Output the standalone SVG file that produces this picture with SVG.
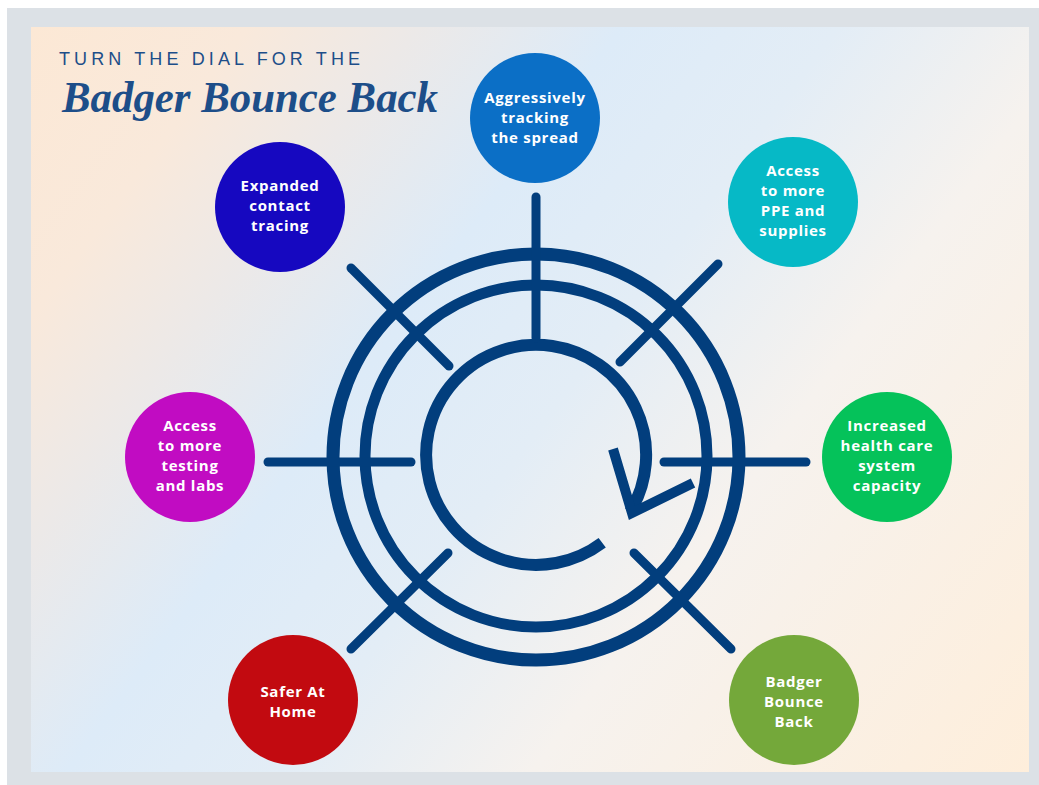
<svg xmlns="http://www.w3.org/2000/svg" width="1039" height="785" viewBox="0 0 1039 785">
  <defs>
    <linearGradient id="bg" gradientUnits="userSpaceOnUse" x1="31" y1="27" x2="1029" y2="772">
      <stop offset="0" stop-color="#FCE8D5"/>
      <stop offset="0.14" stop-color="#F9E9DB"/>
      <stop offset="0.25" stop-color="#ECE9E8"/>
      <stop offset="0.38" stop-color="#DDEBF8"/>
      <stop offset="0.52" stop-color="#E3EDF6"/>
      <stop offset="0.68" stop-color="#F6F2EE"/>
      <stop offset="1" stop-color="#FEEEDB"/>
    </linearGradient>
    <style>
      .ring { fill: none; stroke: #023E7D; }
      .spoke { fill: none; stroke: #023E7D; stroke-width: 9; stroke-linecap: round; }
      .lbl { font-family: "Open Sans", "Liberation Sans", sans-serif; font-weight: 700; font-size: 15px; fill: #FFFFFF; text-anchor: middle; letter-spacing: 0.7px; }
      .title1 { font-family: "Liberation Sans", "DejaVu Sans", sans-serif; font-size: 18px; fill: #1D4E89; }
      .title2 { font-family: "Liberation Serif", "DejaVu Serif", serif; font-style: italic; font-weight: 700; font-size: 45px; fill: #1D4E89; }
    </style>
  </defs>

  <rect x="7" y="8" width="1032" height="777" fill="#DCE1E6"/>
  <rect x="31" y="27" width="998" height="745" fill="url(#bg)"/>

  <g id="title">
    <text class="title1" x="59" y="65" textLength="301" lengthAdjust="spacing">TURN THE DIAL FOR THE</text>
    <text class="title2" x="62" y="112" textLength="376" lengthAdjust="spacingAndGlyphs">Badger Bounce Back</text>
  </g>

  <g id="connectors">
    <circle class="ring" cx="536" cy="457" r="203" stroke-width="13"/>
    <circle class="ring" cx="536" cy="456" r="171" stroke-width="11"/>
    <path class="ring" stroke-width="12" d="M602.2,542.8 A110,110 0 1 1 630.3,511.7"/>
    <polyline class="ring" stroke-width="10" stroke-linejoin="miter" points="613,449 632,513 693,483"/>
    <line class="spoke" x1="536" y1="197" x2="536" y2="338"/>
    <line class="spoke" x1="351" y1="268" x2="449" y2="366"/>
    <line class="spoke" x1="718" y1="264" x2="620" y2="362"/>
    <line class="spoke" x1="268" y1="462" x2="411" y2="462"/>
    <line class="spoke" x1="664" y1="462" x2="806" y2="462"/>
    <line class="spoke" x1="448" y1="553" x2="351" y2="649"/>
    <line class="spoke" x1="634" y1="553" x2="731" y2="649"/>
  </g>

  <g id="node-tracking">
    <circle cx="535" cy="118" r="65" fill="#0B6FC6"/>
    <text class="lbl" x="535" y="103">Aggressively</text>
    <text class="lbl" x="535" y="123">tracking</text>
    <text class="lbl" x="535" y="143">the spread</text>
  </g>
  <g id="node-contact">
    <circle cx="280" cy="207" r="65" fill="#1608C0"/>
    <text class="lbl" x="280" y="191">Expanded</text>
    <text class="lbl" x="280" y="211">contact</text>
    <text class="lbl" x="280" y="231">tracing</text>
  </g>
  <g id="node-ppe">
    <circle cx="793" cy="202" r="65" fill="#06B9C6"/>
    <text class="lbl" x="793" y="176">Access</text>
    <text class="lbl" x="793" y="196">to more</text>
    <text class="lbl" x="793" y="216">PPE and</text>
    <text class="lbl" x="793" y="236">supplies</text>
  </g>
  <g id="node-testing">
    <circle cx="190" cy="457" r="65" fill="#C10CC2"/>
    <text class="lbl" x="190" y="431">Access</text>
    <text class="lbl" x="190" y="451">to more</text>
    <text class="lbl" x="190" y="471">testing</text>
    <text class="lbl" x="190" y="491">and labs</text>
  </g>
  <g id="node-capacity">
    <circle cx="887" cy="457" r="65" fill="#05C25A"/>
    <text class="lbl" x="887" y="431">Increased</text>
    <text class="lbl" x="887" y="451">health care</text>
    <text class="lbl" x="887" y="471">system</text>
    <text class="lbl" x="887" y="491">capacity</text>
  </g>
  <g id="node-safer">
    <circle cx="293" cy="700" r="65" fill="#C20A10"/>
    <text class="lbl" x="293" y="697">Safer At</text>
    <text class="lbl" x="293" y="717">Home</text>
  </g>
  <g id="node-bounce">
    <circle cx="794" cy="700" r="65" fill="#74A83A"/>
    <text class="lbl" x="794" y="687">Badger</text>
    <text class="lbl" x="794" y="707">Bounce</text>
    <text class="lbl" x="794" y="727">Back</text>
  </g>
</svg>
